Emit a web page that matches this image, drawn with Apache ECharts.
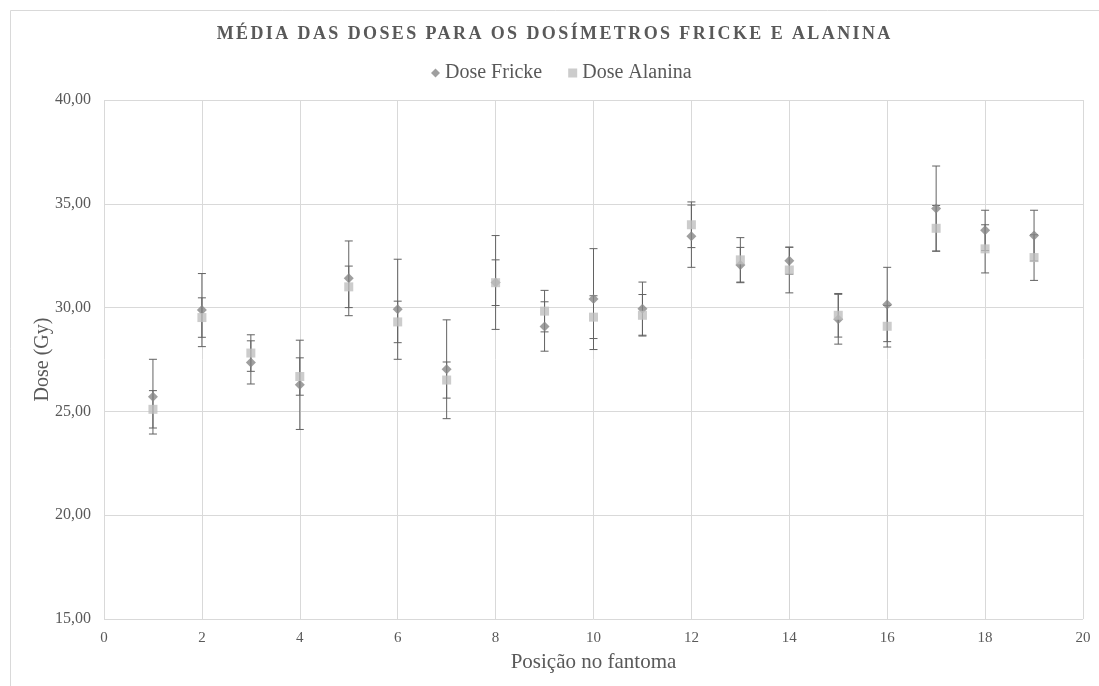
<!DOCTYPE html>
<html>
<head>
<meta charset="utf-8">
<script src="https://cdn.jsdelivr.net/npm/echarts@6/dist/echarts.min.js"></script>
<style>
html,body{margin:0;padding:0;background:#fff;}
#c{width:1099px;height:686px;}
</style>
</head>
<body>
<div id="c"></div>
<script>
var positions = [1,2,3,4,5,6,7,8,9,10,11,12,13,14,15,16,17,18,19];
var fricke = [25.71,29.88,27.36,26.28,31.41,29.92,27.03,31.21,29.09,30.41,29.95,33.44,32.05,32.26,29.44,30.15,34.77,33.72,33.47];
var frickeErr = [1.80,1.76,1.04,2.15,1.80,2.41,2.38,2.26,1.19,2.43,1.28,1.50,0.85,0.65,1.20,1.79,2.05,0.97,1.22];
var alanina = [25.10,29.52,27.81,26.68,31.00,29.31,26.51,31.20,29.83,29.54,29.63,33.99,32.30,31.81,29.63,29.10,33.82,32.83,32.41];
var alaninaErr = [0.90,0.95,0.88,0.90,1.00,1.00,0.87,1.10,1.00,1.03,1.00,1.10,1.07,1.10,1.05,1.00,1.10,1.16,1.10];
var xTicks = [0,2,4,6,8,10,12,14,16,18,20];
var yTicks = [15,20,25,30,35,40];
var titleText = 'MÉDIA DAS DOSES PARA OS DOSÍMETROS FRICKE E ALANINA';

var serif = '"Liberation Serif", "DejaVu Serif", serif';
var textColor = '#595959';
var titleSpacing = 2.4;

// letter-spaced title (canvas letterSpacing), kept centred
(function(){
  var proto = CanvasRenderingContext2D.prototype;
  var orig = proto.fillText;
  if (!('letterSpacing' in proto)) return;
  proto.fillText = function(t, x, y, mw){
    if (t === titleText) {
      var prev = this.letterSpacing;
      this.letterSpacing = titleSpacing + 'px';
      var shift;
      if (this.textAlign === 'center') shift = titleSpacing / 2 + 4;
      else if (this.textAlign === 'right' || this.textAlign === 'end') shift = -t.length * titleSpacing;
      else shift = -t.length * titleSpacing / 2 + 4;
      var r = orig.call(this, t, x + shift, y);
      this.letterSpacing = prev;
      return r;
    }
    return mw === undefined ? orig.call(this, t, x, y) : orig.call(this, t, x, y, mw);
  };
})();

function errData(vals, errs){
  return positions.map(function(p,i){ return [p, vals[i]-errs[i], vals[i]+errs[i]]; });
}
function errRender(params, api){
  var x = api.value(0);
  var lo = api.coord([x, api.value(1)]);
  var hi = api.coord([x, api.value(2)]);
  var w = 4;
  var st = {stroke:'#626262', lineWidth:1};
  return {type:'group', children:[
    {type:'line', shape:{x1:lo[0],y1:lo[1],x2:hi[0],y2:hi[1]}, style:st},
    {type:'line', shape:{x1:lo[0]-w,y1:lo[1],x2:lo[0]+w,y2:lo[1]}, style:st},
    {type:'line', shape:{x1:hi[0]-w,y1:hi[1],x2:hi[0]+w,y2:hi[1]}, style:st}
  ]};
}

var chart = echarts.init(document.getElementById('c'));
chart.setOption({
  animation:false,
  backgroundColor:'#fff',
  graphic:[{type:'rect', shape:{x:10.5,y:10.5,width:1200,height:1000}, style:{fill:'none',stroke:'#d9d9d9',lineWidth:1}, silent:true}],
  title:{text:titleText, left:'center', top:20,
    textStyle:{fontFamily:serif, fontSize:18, fontWeight:'bold', color:textColor}},
  legend:{top:58, left:426, itemGap:26, itemWidth:9, itemHeight:9,
    textStyle:{fontFamily:serif, fontSize:20, color:textColor},
    data:[{name:'Dose Fricke', icon:'diamond'},{name:'Dose Alanina', icon:'rect'}]},
  grid:{left:104, right:16, top:100, bottom:67, containLabel:false},
  xAxis:{type:'value', min:0, max:20, interval:2, name:'Posição no fantoma', nameLocation:'middle', nameGap:33,
    nameTextStyle:{fontFamily:serif, fontSize:21, color:textColor},
    axisLine:{show:false}, axisTick:{show:false},
    axisLabel:{fontFamily:serif, fontSize:15, color:textColor, margin:12},
    splitLine:{show:true, lineStyle:{color:'#d9d9d9'}}},
  yAxis:{type:'value', min:15, max:40, interval:5, name:'Dose (Gy)', nameLocation:'middle', nameGap:51, nameRotate:90,
    nameMoveOverlap:false,
    nameTextStyle:{fontFamily:serif, fontSize:20, color:textColor},
    axisLine:{show:false}, axisTick:{show:false},
    axisLabel:{fontFamily:serif, fontSize:16, color:textColor, margin:13,
      formatter:function(v){ return v.toFixed(2).replace('.', ','); }},
    splitLine:{show:true, lineStyle:{color:'#d9d9d9'}}},
  series:[
    {type:'custom', name:'errF', renderItem:errRender, data:errData(fricke, frickeErr), z:1, silent:true},
    {type:'custom', name:'errA', renderItem:errRender, data:errData(alanina, alaninaErr), z:1, silent:true},
    {type:'scatter', name:'Dose Fricke', symbol:'diamond', symbolSize:10, z:3,
      itemStyle:{color:'#878787'}, data:positions.map(function(p,i){return [p, fricke[i]];})},
    {type:'scatter', name:'Dose Alanina', symbol:'rect', symbolSize:9, z:4,
      itemStyle:{color:'#bfbfbf'}, data:positions.map(function(p,i){return [p, alanina[i]];})}
  ]
});
</script>
</body>
</html>
